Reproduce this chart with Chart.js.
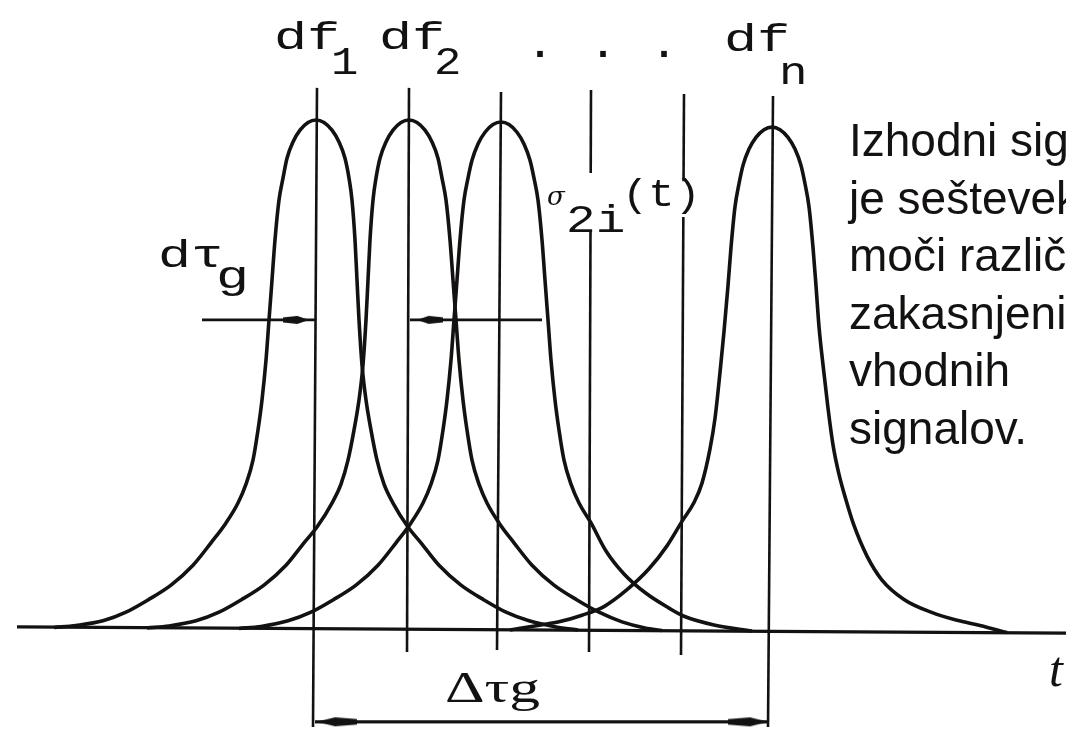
<!DOCTYPE html>
<html>
<head>
<meta charset="utf-8">
<title>Izhodni signal – seštevek zakasnjenih signalov</title>
<script src="https://cdn.jsdelivr.net/npm/chart.js@4/dist/chart.umd.min.js"></script>
<style>
  html, body { margin: 0; padding: 0; background: #ffffff; }
  #wrap { width: 1066px; height: 731px; position: relative; }
  canvas { display: block; }
</style>
</head>
<body>
<div id="wrap"><canvas id="chart" width="1066" height="731"></canvas></div>
<script>
// ---- data: time t (arbitrary units) and relative amplitude (peak = 100) ----

// individual delayed pulses, [t, amplitude]
const pulse1 = [
  [54, 0.5], [76, 0.9], [103, 1.8], [126, 3.5], [148, 5.9], [171, 8.8], [193, 12.7], [211, 17.1],
  [226, 21.0], [238, 24.9], [246, 28.6], [253, 33.3], [258, 39.2], [262, 45.1], [266, 52.9], [269, 60.8],
  [272, 68.6], [275, 76.5], [279, 84.3], [283, 88.6], [287, 92.5], [293, 95.7], [300, 98.0], [308, 99.5],
  [316, 100],
  [324, 99.5], [332, 98.0], [339, 95.7], [345, 92.5], [349, 88.6], [352, 84.3], [355, 76.5], [357, 68.6],
  [359, 60.8], [362, 52.0], [366, 45.1], [371, 39.2], [377, 33.3], [384, 28.6], [393, 24.9], [408, 20.2],
  [421, 17.1], [439, 12.7], [461, 8.8], [484, 5.9], [506, 3.5], [529, 1.8], [556, 0.6], [578, 0]
];
const pulse2 = [
  [147, 0.4], [169, 0.8], [196, 1.8], [219, 3.5], [241, 5.9], [264, 8.8], [286, 12.7], [304, 17.1],
  [317, 20.2], [332, 24.9], [341, 28.6], [348, 33.3], [354, 39.2], [359, 45.1], [363, 52.0], [366, 60.8],
  [368, 68.6], [370, 76.5], [373, 84.3], [376, 88.6], [380, 92.5], [386, 95.7], [393, 98.0], [401, 99.5],
  [409, 100],
  [417, 99.5], [425, 98.0], [432, 95.7], [438, 92.5], [442, 88.6], [446, 84.3], [450, 76.5], [453, 68.6],
  [456, 60.8], [459, 52.9], [463, 45.1], [467, 39.2], [472, 33.3], [479, 28.6], [487, 24.9], [499, 21.0],
  [514, 17.1], [532, 12.7], [554, 8.8], [577, 5.9], [599, 3.5], [622, 1.6], [645, 0.4], [662, -0.1]
];
const pulse3 = [
  [239, 0.3], [261, 0.7], [288, 1.8], [311, 3.5], [333, 5.9], [356, 8.8], [378, 12.7], [396, 17.1],
  [411, 21.0], [423, 24.9], [431, 28.6], [438, 33.3], [443, 39.2], [447, 45.1], [451, 52.9], [454, 60.8],
  [457, 68.6], [460, 76.5], [464, 84.3], [468, 88.6], [472, 92.1], [478, 95.3], [485, 97.6], [493, 99.1],
  [501, 99.6],
  [509, 99.1], [517, 97.6], [524, 95.3], [530, 92.1], [534, 88.6], [538, 84.3], [542, 76.5], [545, 68.6],
  [548, 60.8], [551, 52.9], [555, 45.1], [559, 39.2], [564, 33.3], [571, 28.6], [579, 24.9], [591, 21.0],
  [606, 15.5], [624, 11.0], [646, 7.2], [669, 4.3], [684, 2.7], [714, 1.0], [752, -0.2]
];
const pulse4 = [
  [510, 0], [541, 1.0], [559, 1.6], [582, 2.9], [604, 4.6], [627, 7.9], [649, 12.0], [667, 16.5],
  [682, 21.3], [694, 25.0], [702, 28.8], [710, 35.5], [715, 41.5], [720, 50.5], [724, 58.5], [728, 67.5],
  [731, 75.0], [735, 83.0], [739, 87.5], [743, 91.1], [749, 94.3], [756, 96.6], [764, 98.1],
  [772, 98.6],
  [780, 98.1], [788, 96.6], [795, 94.3], [801, 91.1], [805, 87.5], [809, 83.0], [813, 75.0], [816, 67.5],
  [819, 59.5], [823, 52.0], [828, 43.5], [833, 36.3], [839, 30.5], [846, 25.5], [854, 20.5], [867, 14.5],
  [882, 9.8], [904, 6.0], [931, 3.5], [957, 1.9], [980, 0.9], [1007, -0.5]
];

// time axis line
const baseline = [[17, 0.6], [1066, -0.6]];

// frequency markers df1, df2, ..., dfn : top / bottom of each vertical line
const markerTopT      = [317, 409, 501, 591, 684, 773];
const markerBottomT   = [313, 407, 497, 589, 681, 768];
const markerTopAmp    = [106.3, 106.3, 105.5, 105.9, 105.1, 104.7];
const markerBottomAmp = [-19.0, -4.3, -3.9, -4.3, -4.9, -19.0];
// gaps left free for the σ2i(t) label
const markerGapTop    = [null, null, null, 89.6, 88.0, null];
const markerGapBottom = [null, null, null, 78.4, 81.0, null];

// dτg width arrows (left one points right, right one points left)
const dTauLeft  = [[202, 60.8], [315, 60.8]];
const dTauRight = [[410, 60.8], [542, 60.8]];
// Δτg span arrow between df1 and dfn
const spanArrow = [[315, -18.0], [768, -18.0]];

// axis ranges
const tRange = [0, 1066];
const ampRange = [-19.8, 123.53];

// ---- helpers ----
const INK = '#141210';
const xy = arr => arr.map(([t, a]) => ({ x: t, y: a }));

function arrowHead(len, thick) {
  const c = document.createElement('canvas');
  c.width = len; c.height = thick + 2;
  const g = c.getContext('2d');
  g.fillStyle = INK;
  g.beginPath();
  g.moveTo(0, 1 + thick * 0.2);
  g.lineTo(len * 0.55, 1);
  g.lineTo(len, 1 + thick / 2);
  g.lineTo(len * 0.55, 1 + thick);
  g.lineTo(0, 1 + thick * 0.8);
  g.closePath();
  g.fill();
  return c;
}
const headSmall = arrowHead(26, 8);
const headLarge = arrowHead(40, 9);

const datasets = [];

[pulse1, pulse2, pulse3, pulse4].forEach((p, i) => {
  datasets.push({
    label: 'pulse ' + (i + 1),
    data: xy(p),
    borderColor: INK,
    borderWidth: 3.6,
    cubicInterpolationMode: 'monotone',
    pointRadius: 0,
    fill: false
  });
});

datasets.push({
  label: 't axis', data: xy(baseline), borderColor: INK, borderWidth: 3.2,
  tension: 0, pointRadius: 0
});

markerTopT.forEach((t0, i) => {
  const t1 = markerBottomT[i];
  const a0 = markerTopAmp[i], a1 = markerBottomAmp[i];
  const tAt = a => t0 + (t1 - t0) * (a0 - a) / (a0 - a1);
  const segs = markerGapTop[i] == null
    ? [[a0, a1]]
    : [[a0, markerGapTop[i]], [markerGapBottom[i], a1]];
  segs.forEach(([s, e]) => {
    datasets.push({
      label: 'df marker', data: [{ x: tAt(s), y: s }, { x: tAt(e), y: e }],
      borderColor: INK, borderWidth: 2.6, tension: 0, pointRadius: 0
    });
  });
});

function arrowSet(seg, headAt, img, rot) {
  const pts = xy(seg);
  pts.splice(1, 0, { x: headAt, y: seg[0][1] });
  return {
    label: 'arrow', data: pts, borderColor: INK, borderWidth: 2.7, tension: 0,
    pointStyle: [false, img, false], pointRadius: [0, 10, 0],
    pointRotation: [0, rot, 0], pointBackgroundColor: INK, pointBorderWidth: 0
  };
}
datasets.push(arrowSet(dTauLeft, 296, headSmall, 0));
datasets.push(arrowSet(dTauRight, 430, headSmall, 180));
datasets.push(arrowSet(spanArrow, 337, headLarge, 180));
datasets.push(arrowSet(spanArrow, 748, headLarge, 0));

// ---- text labels ----
const MONO = '"Liberation Mono", "DejaVu Sans Mono", monospace';
const SERIF = '"Liberation Serif", "DejaVu Serif", serif';
const SANS = '"Liberation Sans", Arial, sans-serif';

function stretched(ctx, text, x, y, font, sx) {
  ctx.save();
  ctx.font = font;
  ctx.translate(x, y);
  ctx.scale(sx, 1);
  ctx.fillText(text, 0, 0);
  ctx.restore();
}

const labelPlugin = {
  id: 'diagramLabels',
  afterDatasetsDraw(chart) {
    const ctx = chart.ctx;
    ctx.save();
    ctx.fillStyle = INK;
    ctx.textBaseline = 'alphabetic';
    ctx.textAlign = 'left';
    const big = '38px ' + MONO;
    const sx = 1.45;
    // df1, df2, dfn
    stretched(ctx, 'df', 274, 49, big, sx);
    stretched(ctx, '1', 331, 74, big, 1.2);
    stretched(ctx, 'df', 379, 49, big, sx);
    stretched(ctx, '2', 434, 74, big, 1.2);
    stretched(ctx, 'df', 724, 51, big, sx);
    stretched(ctx, 'n', 779, 84, big, 1.25);
    // dots between markers
    ctx.save();
    ctx.textAlign = 'center';
    ctx.font = 'bold 40px ' + MONO;
    ['.', '.', '.'].forEach((d, k) => ctx.fillText(d, [540, 603, 664][k], 57));
    ctx.restore();
    // dτg
    stretched(ctx, 'dτ', 158, 267, big, sx);
    stretched(ctx, 'g', 216, 288, big, sx);
    // σ2i(t)
    stretched(ctx, 'σ', 547, 205, 'italic 26px "DejaVu Serif", serif', 1.0);
    stretched(ctx, '2i', 566, 232, big, 1.3);
    stretched(ctx, '(t)', 622, 206, big, 1.15);
    // Δτg
    stretched(ctx, 'Δτg', 445, 702, '44px ' + SERIF, 1.4);
    // t axis label
    stretched(ctx, 't', 1049, 686, 'italic 50px ' + SERIF, 1.0);
    // explanation text
    ctx.font = '46px ' + SANS;
    const lines = ['Izhodni signal', 'je seštevek', 'moči različno', 'zakasnjenih', 'vhodnih', 'signalov.'];
    lines.forEach((s, k) => ctx.fillText(s, 849, 156 + k * 57.5));
    ctx.restore();
  }
};

new Chart(document.getElementById('chart'), {
  type: 'line',
  data: { datasets },
  options: {
    responsive: false,
    animation: false,
    events: [],
    layout: { padding: 0 },
    plugins: { legend: { display: false }, tooltip: { enabled: false }, title: { display: false } },
    scales: {
      x: { type: 'linear', min: tRange[0], max: tRange[1], display: false },
      y: { type: 'linear', min: ampRange[0], max: ampRange[1], display: false }
    }
  },
  plugins: [labelPlugin]
});
</script>
</body>
</html>
